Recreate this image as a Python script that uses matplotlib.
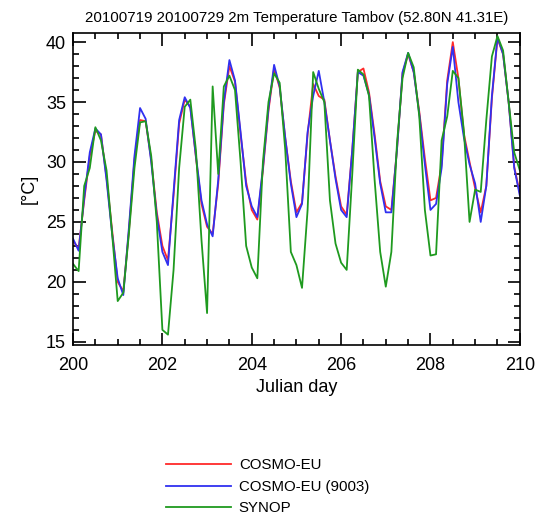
import numpy as np
import matplotlib
matplotlib.use('Agg')
import matplotlib.pyplot as plt
from matplotlib.ticker import MultipleLocator

plt.rcParams['font.family'] = ['Liberation Sans', 'DejaVu Sans']

# 3-hourly values, Julian day 200..210
days = 200 + np.arange(81) * 0.125

cosmo_eu_9003 = [
    23.6, 22.6, 27.0, 30.8, 32.8, 32.3, 28.5, 24.0,
    20.3, 18.9, 24.5, 30.5, 34.5, 33.6, 30.0, 25.5,
    22.5, 21.4, 27.5, 33.5, 35.4, 34.5, 30.5, 26.8,
    24.8, 23.8, 28.5, 35.0, 38.5, 36.8, 32.5, 28.0,
    26.3, 25.4, 29.5, 34.5, 38.1, 36.3, 32.0, 28.2,
    25.4, 26.5, 32.5, 35.5, 37.6, 35.0, 31.8, 28.6,
    26.0, 25.4, 31.0, 37.5, 37.2, 35.6, 32.0, 28.2,
    25.8, 25.8, 31.0, 37.5, 39.1, 37.5, 34.0, 29.8,
    26.0, 26.5, 29.5, 36.5, 39.6, 35.0, 32.0, 29.8,
    28.2, 25.0, 28.0, 35.5, 40.4, 39.0, 35.0, 29.5,
    27.2,
]

cosmo_eu = [
    23.4, 22.8, 26.8, 30.5, 32.6, 32.3, 28.7, 24.3,
    20.0, 19.2, 24.2, 30.2, 33.5, 33.4, 30.2, 25.8,
    23.0, 21.8, 27.2, 33.2, 35.2, 34.6, 30.4, 26.5,
    24.6, 24.0, 28.2, 34.8, 38.0, 36.7, 32.3, 28.3,
    26.0, 25.2, 29.3, 34.3, 37.8, 36.2, 32.0, 28.4,
    25.8, 26.6, 32.3, 36.5, 35.5, 35.2, 31.8, 28.8,
    26.3, 25.6, 31.0, 37.5, 37.8, 35.8, 32.3, 28.4,
    26.3, 26.0, 31.0, 37.4, 39.0, 37.5, 34.2, 30.3,
    26.8, 27.0, 29.8, 36.8, 40.0, 37.0, 32.3, 30.0,
    27.8, 25.8, 28.0, 35.3, 40.3, 39.0, 35.0, 29.6,
    27.4,
]

synop = [
    21.5, 20.9, 28.0, 29.5, 32.9, 31.8, 29.3, 24.0,
    18.4, 19.1, 24.0, 29.5, 33.3, 33.4, 30.5, 25.0,
    16.0, 15.6, 21.0, 29.5, 34.6, 35.2, 31.0, 23.5,
    17.4, 36.3, 29.0, 36.3, 37.2, 36.0, 30.0, 23.0,
    21.2, 20.3, 30.0, 35.0, 37.4, 36.6, 31.0, 22.5,
    21.4, 19.5, 26.0, 37.5, 36.1, 35.0, 26.8, 23.2,
    21.6, 21.0, 29.0, 37.7, 37.3, 35.5, 28.5, 22.5,
    19.6, 22.5, 31.5, 37.0, 39.1, 37.9, 33.8, 26.0,
    22.2, 22.3, 31.8, 33.8, 37.6, 37.0, 32.5, 25.0,
    27.7, 27.5, 33.5, 38.8, 40.5, 39.3, 35.0, 30.8,
    29.3,
]

fig = plt.figure(figsize=(5.37, 5.17), dpi=100)
ax = fig.add_axes([0.136, 0.333, 0.832, 0.603])

ax.plot(days, cosmo_eu, color='#ff2a2a', lw=1.3, label='COSMO-EU')
ax.plot(days, cosmo_eu_9003, color='#3030f0', lw=1.3, label='COSMO-EU (9003)')
ax.plot(days, synop, color='#1f9a1f', lw=1.3, label='SYNOP')

ax.set_xlim(200, 210)
ax.set_ylim(14.75, 40.75)
ax.xaxis.set_major_locator(MultipleLocator(2))
ax.xaxis.set_minor_locator(MultipleLocator(0.5))
ax.yaxis.set_major_locator(MultipleLocator(5))
ax.yaxis.set_minor_locator(MultipleLocator(1))
ax.tick_params(which='both', direction='in', top=True, right=True,
               width=1.2, labelsize=13)
ax.tick_params(axis='x', pad=9)
ax.tick_params(axis='y', pad=5)
ax.tick_params(which='major', length=9)
ax.tick_params(which='minor', length=4.5)
for s in ax.spines.values():
    s.set_linewidth(1.2)

ax.set_title('20100719 20100729 2m Temperature Tambov (52.80N 41.31E)',
             fontsize=10.8, pad=8)
ax.set_xlabel('Julian day', fontsize=13, labelpad=3)
ax.set_ylabel('[°C]', fontsize=13, labelpad=6)

fig.legend(loc='upper left', bbox_to_anchor=(0.298, 0.125), frameon=False,
           fontsize=10.8, handlelength=4.3, handletextpad=0.55,
           labelspacing=0.5, borderaxespad=0)

fig.savefig('out.png', dpi=100)
